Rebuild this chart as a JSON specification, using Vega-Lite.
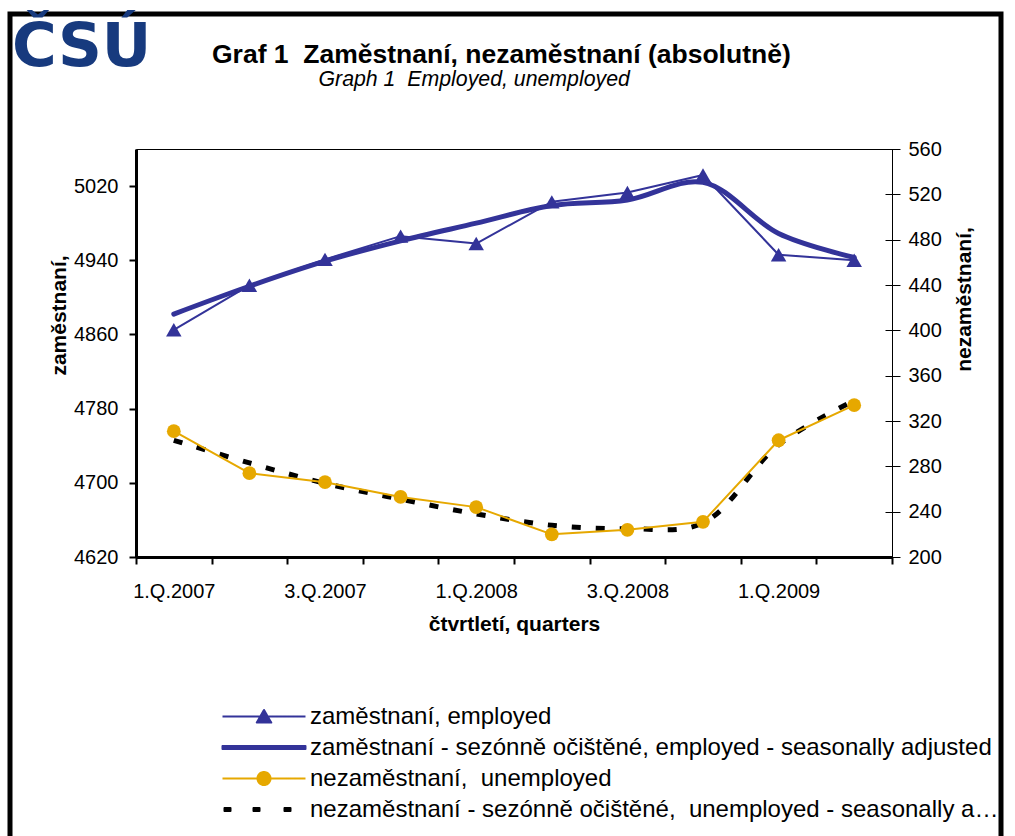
{
  "$schema": "https://vega.github.io/schema/vega-lite/v6.json",
  "width": 756,
  "height": 408,
  "autosize": "none",
  "padding": {"left": 136, "top": 149, "right": 123, "bottom": 279},
  "background": "white",
  "config": {
    "font": "Liberation Sans",
    "view": {"stroke": "black", "strokeWidth": 1},
    "axis": {
      "grid": false,
      "labelFont": "Liberation Sans",
      "labelFontSize": 20,
      "labelColor": "black",
      "labelOverlap": false,
      "titleFont": "Liberation Sans",
      "titleFontSize": 21,
      "titleFontWeight": "bold",
      "titleColor": "black",
      "tickColor": "black",
      "domainColor": "black"
    }
  },
  "title": {
    "text": "\u200bGraf 1\u00a0 Zaměstnaní, nezaměstnaní (absolutně)",
    "subtitle": "\u200b\u00a0\u00a0\u00a0\u00a0\u00a0\u00a0\u00a0\u00a0\u00a0\u00a0\u00a0\u00a0\u00a0\u00a0\u00a0\u00a0\u00a0\u00a0Graph 1\u00a0 Employed, unemployed",
    "anchor": "start",
    "align": "left",
    "frame": "group",
    "font": "Liberation Sans",
    "fontSize": 26.5,
    "fontWeight": "bold",
    "color": "black",
    "subtitleFont": "Liberation Sans",
    "subtitleFontSize": 21.3,
    "subtitleFontStyle": "italic",
    "subtitleColor": "black",
    "subtitlePadding": 1,
    "offset": 0,
    "dx": 76,
    "dy": 79
  },
  "data": {
    "values": [
      {"q": "1.Q.2007", "emp": 4865, "empSA": 4882, "unemp": 311, "unempSA": 303},
      {"q": "2.Q.2007", "emp": 4913, "empSA": 4912, "unemp": 274, "unempSA": 283},
      {"q": "3.Q.2007", "emp": 4941, "empSA": 4939, "unemp": 266, "unempSA": 265},
      {"q": "4.Q.2007", "emp": 4966, "empSA": 4961, "unemp": 253, "unempSA": 251},
      {"q": "1.Q.2008", "emp": 4958, "empSA": 4980, "unemp": 244, "unempSA": 238},
      {"q": "2.Q.2008", "emp": 5003, "empSA": 4999, "unemp": 220, "unempSA": 228},
      {"q": "3.Q.2008", "emp": 5013, "empSA": 5005, "unemp": 224, "unempSA": 225},
      {"q": "4.Q.2008", "emp": 5032, "empSA": 5024, "unemp": 231, "unempSA": 230},
      {"q": "1.Q.2009", "emp": 4946, "empSA": 4969, "unemp": 303, "unempSA": 299},
      {"q": "2.Q.2009", "emp": 4940, "empSA": 4943, "unemp": 334, "unempSA": 338}
    ]
  },
  "encoding": {
    "x": {
      "field": "q",
      "type": "ordinal",
      "scale": {
        "type": "band",
        "domain": ["1.Q.2007", "2.Q.2007", "3.Q.2007", "4.Q.2007", "1.Q.2008", "2.Q.2008", "3.Q.2008", "4.Q.2008", "1.Q.2009", "2.Q.2009"],
        "paddingInner": 0,
        "paddingOuter": 0
      },
      "axis": {
        "orient": "bottom",
        "tickBand": "extent",
        "labelAngle": 0,
        "labelOverlap": false,
        "labelExpr": "substring(datum.label,0,1) == '1' || substring(datum.label,0,1) == '3' ? datum.label : ''",
        "labelPadding": 17,
        "tickSize": 7,
        "tickWidth": 2,
        "domainWidth": 3,
        "title": "čtvrtletí, quarters",
        "titlePadding": 12
      }
    }
  },
  "layer": [
    {
      "layer": [
        {
          "mark": {"type": "line", "strokeWidth": 2, "strokeJoin": "round"},
          "encoding": {
            "y": {
              "field": "emp",
              "type": "quantitative",
              "scale": {"domain": [4620, 5060], "nice": false, "zero": false},
              "axis": {
                "orient": "left",
                "values": [4620, 4660, 4700, 4740, 4780, 4820, 4860, 4900, 4940, 4980, 5020, 5060],
                "format": "d",
                "labelOverlap": false,
                "tickSize": 7,
                "tickWidth": 2,
                "domainWidth": 3,
                "labelPadding": 11,
                "title": "zaměstnaní,",
                "titleAngle": 270,
                "titleBaseline": "bottom",
                "titleAlign": "center",
                "titlePadding": 4,
                "titleY": 166
              }
            },
            "color": {
              "datum": "zaměstnaní, employed",
              "type": "nominal",
              "scale": {
                "domain": ["zaměstnaní, employed", "zaměstnaní - sezónně očištěné, employed - seasonally adjusted", "nezaměstnaní,\u00a0 unemployed", "nezaměstnaní - sezónně očištěné,\u00a0 unemployed - seasonally adjusted", "\u00a0"],
                "range": ["#333399", "#333399", "#E6A800", "#000000", "#ffffff"]
              },
              "legend": {
                "orient": "none",
                "legendX": -126,
                "legendY": -135,
                "padding": 2,
                "rowPadding": 3,
                "strokeColor": "black",
                "title": "ČSÚ",
                "titleFont": "DejaVu Sans",
                "titleFontSize": 61,
                "titleFontWeight": "bold",
                "titleColor": "#173A7E",
                "titlePadding": 624,
                "titleBaseline": "top",
                "titleAlign": "left",
                "symbolSize": 841,
                "symbolStrokeWidth": 2,
                "symbolOffset": 0,
                "labelOffset": 267,
                "labelFont": "Liberation Sans",
                "labelFontSize": 24,
                "labelColor": "black",
                "labelLimit": 696,
                "encode": {
                  "legend": {
                    "update": {
                      "stroke": {"value": "black"},
                      "strokeWidth": {"value": 5}
                    }
                  },
                  "title": {
                    "update": {
                      "dy": {"value": 2}
                    }
                  },
                  "symbols": {
                    "update": {
                      "shape": {"signal": "datum.index === 0 ? 'M13.448,0H19.172M16.31,-0.45L16.81,0.42H15.81Z' : datum.index === 1 ? 'M13.448,-0.1H19.172V0.1H13.448Z' : datum.index === 2 ? 'M13.448,0H19.172M16.76,0A0.45,0.45,0,1,1,15.86,0A0.45,0.45,0,1,1,16.76,0Z' : datum.index === 3 ? 'M13.586,-0.103H14V0.103H13.586ZM15.586,-0.103H16V0.103H15.586ZM17.724,-0.103H18.138V0.103H17.724Z' : 'M0,0'"},
                      "fill": {"signal": "datum.index < 2 ? '#333399' : datum.index === 2 ? '#E6A800' : datum.index === 3 ? '#000000' : 'transparent'"},
                      "stroke": {"signal": "datum.index < 2 ? '#333399' : datum.index === 2 ? '#E6A800' : datum.index === 3 ? '#000000' : 'transparent'"},
                      "size": {"value": 841},
                      "strokeWidth": {"value": 2},
                      "strokeDash": {"value": [1, 0]},
                      "strokeJoin": {"value": "round"},
                      "opacity": {"value": 1},
                      "fillOpacity": {"value": 1},
                      "strokeOpacity": {"value": 1}
                    }
                  }
                }
              }
            }
          }
        },
        {
          "mark": {"type": "point", "shape": "triangle-up", "filled": true, "size": 240, "opacity": 1},
          "encoding": {
            "y": {"field": "emp", "type": "quantitative", "scale": {"domain": [4620, 5060], "nice": false, "zero": false}},
            "color": {
              "datum": "zaměstnaní, employed",
              "type": "nominal",
              "scale": {
                "domain": ["zaměstnaní, employed", "zaměstnaní - sezónně očištěné, employed - seasonally adjusted", "nezaměstnaní,\u00a0 unemployed", "nezaměstnaní - sezónně očištěné,\u00a0 unemployed - seasonally adjusted", "\u00a0"],
                "range": ["#333399", "#333399", "#E6A800", "#000000", "#ffffff"]
              }
            }
          }
        },
        {
          "mark": {"type": "line", "strokeWidth": 5, "interpolate": "catmull-rom", "strokeCap": "round", "strokeJoin": "round"},
          "encoding": {
            "y": {"field": "empSA", "type": "quantitative", "scale": {"domain": [4620, 5060], "nice": false, "zero": false}},
            "color": {
              "datum": "zaměstnaní - sezónně očištěné, employed - seasonally adjusted",
              "type": "nominal",
              "scale": {
                "domain": ["zaměstnaní, employed", "zaměstnaní - sezónně očištěné, employed - seasonally adjusted", "nezaměstnaní,\u00a0 unemployed", "nezaměstnaní - sezónně očištěné,\u00a0 unemployed - seasonally adjusted", "\u00a0"],
                "range": ["#333399", "#333399", "#E6A800", "#000000", "#ffffff"]
              }
            }
          }
        }
      ]
    },
    {
      "layer": [
        {
          "mark": {"type": "line", "strokeWidth": 5, "interpolate": "catmull-rom", "strokeDash": [9, 15]},
          "encoding": {
            "y": {
              "field": "unempSA",
              "type": "quantitative",
              "scale": {"domain": [200, 560], "nice": false, "zero": false},
              "axis": {
                "orient": "right",
                "values": [200, 240, 280, 320, 360, 400, 440, 480, 520, 560],
                "format": "d",
                "offset": -7,
                "domain": false,
                "tickSize": 15,
                "tickWidth": 1,
                "labelPadding": 8,
                "title": "nezaměstnaní,",
                "titleAngle": 270,
                "titleBaseline": "top",
                "titleAlign": "center",
                "titlePadding": 12,
                "titleY": 150
              }
            },
            "color": {
              "datum": "nezaměstnaní - sezónně očištěné,\u00a0 unemployed - seasonally adjusted",
              "type": "nominal",
              "scale": {
                "domain": ["zaměstnaní, employed", "zaměstnaní - sezónně očištěné, employed - seasonally adjusted", "nezaměstnaní,\u00a0 unemployed", "nezaměstnaní - sezónně očištěné,\u00a0 unemployed - seasonally adjusted", "\u00a0"],
                "range": ["#333399", "#333399", "#E6A800", "#000000", "#ffffff"]
              }
            }
          }
        },
        {
          "mark": {"type": "line", "strokeWidth": 2, "strokeJoin": "round"},
          "encoding": {
            "y": {"field": "unemp", "type": "quantitative", "scale": {"domain": [200, 560], "nice": false, "zero": false}},
            "color": {
              "datum": "nezaměstnaní,\u00a0 unemployed",
              "type": "nominal",
              "scale": {
                "domain": ["zaměstnaní, employed", "zaměstnaní - sezónně očištěné, employed - seasonally adjusted", "nezaměstnaní,\u00a0 unemployed", "nezaměstnaní - sezónně očištěné,\u00a0 unemployed - seasonally adjusted", "\u00a0"],
                "range": ["#333399", "#333399", "#E6A800", "#000000", "#ffffff"]
              }
            }
          }
        },
        {
          "mark": {"type": "point", "shape": "circle", "filled": true, "size": 190, "opacity": 1},
          "encoding": {
            "y": {"field": "unemp", "type": "quantitative", "scale": {"domain": [200, 560], "nice": false, "zero": false}},
            "color": {
              "datum": "nezaměstnaní,\u00a0 unemployed",
              "type": "nominal",
              "scale": {
                "domain": ["zaměstnaní, employed", "zaměstnaní - sezónně očištěné, employed - seasonally adjusted", "nezaměstnaní,\u00a0 unemployed", "nezaměstnaní - sezónně očištěné,\u00a0 unemployed - seasonally adjusted", "\u00a0"],
                "range": ["#333399", "#333399", "#E6A800", "#000000", "#ffffff"]
              }
            }
          }
        }
      ]
    }
  ],
  "resolve": {
    "scale": {"y": "independent"},
    "axis": {"y": "independent"}
  }
}
